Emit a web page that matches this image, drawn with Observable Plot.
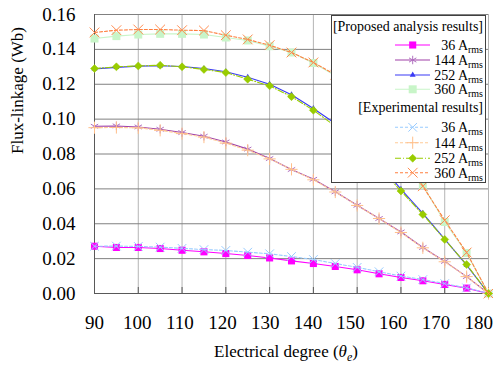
<!DOCTYPE html>
<html><head><meta charset="utf-8">
<script src="https://cdn.jsdelivr.net/npm/d3@7"></script>
<script src="https://cdn.jsdelivr.net/npm/@observablehq/plot@0.6"></script>
<style>
body{margin:0;background:#fff}
#chart{width:493px;height:365px}
</style>
</head><body><div id="chart"></div>
<script>
// ---- data ----
const degrees = [90,95,100,105,110,115,120,125,130,135,140,145,150,155,160,165,170,175,180];
const prop36  = [0.0271,0.0264,0.0264,0.0258,0.0248,0.0239,0.0229,0.0218,0.0204,0.0187,0.0172,0.0155,0.0136,0.0113,0.0092,0.0073,0.0052,0.0031,0];
const prop144 = [0.0959,0.0961,0.0955,0.0942,0.0923,0.0902,0.0869,0.0828,0.0774,0.0711,0.0655,0.0583,0.0506,0.0430,0.0353,0.0264,0.0184,0.0097,0];
const prop252 = [0.1288,0.1297,0.1304,0.1306,0.1302,0.1290,0.1272,0.1240,0.1200,0.1140,0.1061,0.0975,0.0870,0.0745,0.0598,0.0460,0.0312,0.0163,0];
const prop360 = [0.1462,0.1476,0.1485,0.1489,0.1489,0.1485,0.1468,0.1451,0.1418,0.1382,0.1322,0.1250,0.1155,0.1030,0.0835,0.0621,0.0410,0.0232,0];
const exp36   = [0.0271,0.0272,0.0270,0.0266,0.0259,0.0252,0.0247,0.0237,0.0228,0.0212,0.0195,0.0172,0.0150,0.0125,0.0100,0.0080,0.0057,0.0032,0];
const exp144  = [0.0951,0.0952,0.0950,0.0936,0.0917,0.0897,0.0862,0.0822,0.0772,0.0712,0.0652,0.0582,0.0505,0.0430,0.0350,0.0262,0.0182,0.0097,0];
const exp252  = [0.1290,0.1300,0.1305,0.1309,0.1300,0.1285,0.1267,0.1229,0.1191,0.1129,0.1051,0.0960,0.0852,0.0728,0.0588,0.0453,0.0310,0.0166,0];
const exp360  = [0.1497,0.1510,0.1514,0.1514,0.1510,0.1508,0.1481,0.1457,0.1424,0.1382,0.1325,0.1255,0.1160,0.1035,0.0835,0.0615,0.0420,0.0235,0];
const currents = ["36","144","252","360"];
const xTicks = [90,100,110,120,130,140,150,160,170,180];
const yTicks = [0,0.02,0.04,0.06,0.08,0.10,0.12,0.14,0.16];
const groupTitles = ["[Proposed analysis results]","[Experimental results]"];

// ---- styles ----
const series = [
  {g:0, name:currents[0], vals:prop36,  stroke:"#FF00FF", dash:null,      symbol:"square",   r:4,   fill:"#FF00FF", mstroke:"none", msw:0},
  {g:0, name:currents[1], vals:prop144, stroke:"#A040A8", dash:null,      symbol:"asterisk", r:4,   fill:"none",    mstroke:"#B070C0", msw:1},
  {g:0, name:currents[2], vals:prop252, stroke:"#3A3AF5", dash:null,      symbol:"triangle", r:2.2, fill:"#3A3AF5", mstroke:"none", msw:0},
  {g:0, name:currents[3], vals:prop360, stroke:"#C8F5C8", dash:null,      symbol:"square",   r:4.5, fill:"#C8F5C8", mstroke:"none", msw:0},
  {g:1, name:currents[0], vals:exp36,   stroke:"#99CCFF", dash:"3,2",     symbol:"times",    r:4,   fill:"none",    mstroke:"#99CCFF", msw:1},
  {g:1, name:currents[1], vals:exp144,  stroke:"#FFCC99", dash:"3,2",     symbol:"plus",     r:4,   fill:"none",    mstroke:"#FFBF8A", msw:1},
  {g:1, name:currents[2], vals:exp252,  stroke:"#99CC00", dash:"6,2,1,2", symbol:"diamond2", r:3.6, fill:"#99CC00", mstroke:"#99CC00", msw:0.5},
  {g:1, name:currents[3], vals:exp360,  stroke:"#FF7F3F", dash:"3,2",     symbol:"times",    r:4.5, fill:"none",    mstroke:"#FF8C50", msw:1}
];
const rowsOf = vals => degrees.map((d,i) => ({deg:d, v:vals[i]}));

const FONT = "Liberation Serif";
const marks = [
  Plot.ruleX(xTicks, {stroke:"#b4b4b4"}),
  Plot.ruleY(yTicks, {stroke:"#808080"}),
  Plot.ruleX([90], {stroke:"#595959"}),
  Plot.ruleY([0], {stroke:"#595959"}),
  Plot.ruleX(xTicks, {stroke:"#595959", insetTop:273})
];
for (const s of series) {
  const rows = rowsOf(s.vals);
  marks.push(Plot.line(rows, {x:"deg", y:"v", stroke:s.stroke, strokeWidth:1.1, strokeDasharray:s.dash || undefined}));
  marks.push(Plot.dot(rows, {x:"deg", y:"v", symbol:s.symbol, r:s.r, fill:s.fill, stroke:s.mstroke, strokeWidth:s.msw}));
}
marks.push(
  Plot.text(yTicks, {x:90, y:d=>d, text:d=>d.toFixed(2), textAnchor:"end", dx:-19, fontSize:19, fontFamily:FONT, fill:"#000"}),
  Plot.text(xTicks, {x:d=>d-(d-90)*0.025, y:0, text:d=>String(d), dy:29.5, fontSize:19, fontFamily:FONT, fill:"#000"}),
  Plot.text(["Flux-linkage (Wb)"], {frameAnchor:"left", rotate:-90, dx:-77, fontSize:17, fontFamily:FONT, text:d=>d, fill:"#000"})
);

const chart = Plot.plot({
  width:493, height:365,
  marginLeft:94, marginRight:5, marginTop:14, marginBottom:72,
  x:{domain:[90,180], axis:null},
  y:{domain:[0,0.16], axis:null},
  style:{fontFamily:FONT, fontSize:"19px", background:"#fff", color:"#000"},
  marks
});
document.getElementById("chart").appendChild(chart);

const svg = d3.select(chart);
// x title
const xt = svg.append("text").attr("x",286).attr("y",357).attr("text-anchor","middle")
  .attr("font-size",17).attr("font-family",FONT).attr("fill","#000");
xt.append("tspan").text("Electrical degree (");
xt.append("tspan").attr("font-style","italic").text("θ");
xt.append("tspan").attr("font-style","italic").attr("font-size",12).attr("dy",4).text("e");
xt.append("tspan").attr("dy",-4).text(")");

// legend
const lg = svg.append("g").attr("fill","#000").attr("font-family",FONT);
lg.append("rect").attr("x",331.5).attr("y",15.5).attr("width",154).attr("height",167)
  .attr("fill","#fff").attr("stroke","#404040").attr("stroke-width",1);
const symMap = {square:d3.symbolSquare, asterisk:d3.symbolAsterisk, triangle:d3.symbolTriangle,
  times:d3.symbolTimes, plus:d3.symbolPlus, diamond2:d3.symbolDiamond2};
const headerY = [26, 107.3];
const rowY = [[45,60,75,89.3],[127.3,142.7,158.3,172.7]];
groupTitles.forEach((t,gi) => {
  lg.append("text").attr("x",483).attr("y",headerY[gi]+4.8).attr("text-anchor","end")
    .attr("font-size",14).attr("font-family",FONT).text(t);
});
const counters = [0,0];
for (const s of series) {
  const y = rowY[s.g][counters[s.g]++];
  lg.append("line").attr("x1",395).attr("x2",430).attr("y1",y).attr("y2",y)
    .attr("stroke",s.stroke).attr("stroke-width",1.1).attr("stroke-dasharray",s.dash);
  lg.append("path").attr("transform",`translate(412.7,${y})`)
    .attr("d",d3.symbol(symMap[s.symbol], Math.PI*s.r*s.r)())
    .attr("fill",s.fill).attr("stroke",s.mstroke).attr("stroke-width",s.msw);
  const t = lg.append("text").attr("x",483).attr("y",y+4.8).attr("text-anchor","end")
    .attr("font-size",14).attr("font-family",FONT);
  t.append("tspan").text(s.name + " A");
  t.append("tspan").attr("font-size",10).attr("dy",3).text("rms");
}
</script></body></html>
